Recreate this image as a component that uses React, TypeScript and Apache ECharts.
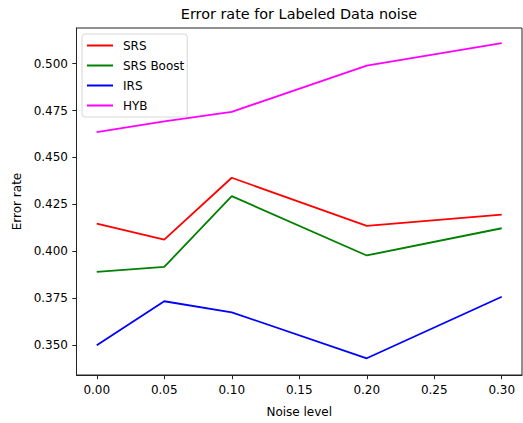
import React, { useEffect, useRef } from "react";
import * as echarts from "echarts";

const noiseLevels = [0.0, 0.05, 0.1, 0.2, 0.3];
const srs = [0.4148, 0.4062, 0.4392, 0.4136, 0.4196];
const srsBoost = [0.3891, 0.3917, 0.4294, 0.3978, 0.4123];
const irs = [0.35, 0.3734, 0.3675, 0.343, 0.3758];
const hyb = [0.4635, 0.4692, 0.4743, 0.499, 0.511];
const xTicks = [0, 0.05, 0.1, 0.15, 0.2, 0.25, 0.3];
const yTicks = [0.35, 0.375, 0.4, 0.425, 0.45, 0.475, 0.5];

const FONT = "DejaVu Sans";

export default function App() {
  const ref = useRef<HTMLDivElement>(null);
  useEffect(() => {
    document.body.style.margin = "0";
    const chart = echarts.init(ref.current!, null, { renderer: "svg" });
    const mk = (name: string, data: number[], color: string) => ({
      name,
      type: "line",
      data: noiseLevels.map((x, i) => [x, data[i]]),
      showSymbol: false,
      symbol: "none",
      lineStyle: { color, width: 1.8 },
      itemStyle: { color },
      z: 3,
    });
    chart.setOption({
      animation: false,
      backgroundColor: "#fff",
      textStyle: { fontFamily: FONT },
      graphic: [
        {
          type: "text",
          x: 299,
          y: 14,
          style: {
            text: "Error rate for Labeled Data noise",
            fontFamily: FONT,
            fontSize: 14.4,
            fill: "#000",
            textAlign: "center",
            textVerticalAlign: "middle",
          },
        },
      ],
      grid: {
        left: 76.5,
        right: 1,
        top: 28,
        bottom: 42,
        show: true,
        borderColor: "#222",
        borderWidth: 1,
        backgroundColor: "transparent",
      },
      legend: {
        orient: "vertical",
        left: 82,
        top: 34,
        padding: [4.5, 3, 4.5, 5],
        borderColor: "#d6d6d6",
        borderWidth: 1,
        borderRadius: 3,
        backgroundColor: "rgba(255,255,255,0.8)",
        itemWidth: 26,
        itemHeight: 2,
        itemGap: 6,
        icon: "rect",
        textStyle: { fontFamily: FONT, fontSize: 12, color: "#000", lineHeight: 14, padding: [0, 0, 0, 5] },
        data: ["SRS", "SRS Boost", "IRS", "HYB"],
      },
      xAxis: {
        type: "value",
        min: -0.015,
        max: 0.315,
        name: "Noise level",
        nameLocation: "middle",
        nameGap: 31,
        nameTextStyle: { fontFamily: FONT, fontSize: 12, color: "#000" },
        axisLine: { show: true, onZero: false, lineStyle: { color: "#222", width: 1 } },
        axisTick: { show: true, length: 4.2, customValues: xTicks, lineStyle: { color: "#222" } },
        axisLabel: {
          customValues: xTicks,
          formatter: (v: number) => v.toFixed(2),
          fontFamily: FONT,
          fontSize: 12,
          color: "#000",
          margin: 9,
        },
        splitLine: { show: false },
      },
      yAxis: {
        type: "value",
        min: 0.3341,
        max: 0.519,
        name: "Error rate",
        nameLocation: "middle",
        nameGap: 53,
        nameTextStyle: { fontFamily: FONT, fontSize: 12, color: "#000" },
        axisLine: { show: true, onZero: false, lineStyle: { color: "#222", width: 1 } },
        axisTick: { show: true, length: 4.2, customValues: yTicks, lineStyle: { color: "#222" } },
        axisLabel: {
          customValues: yTicks,
          formatter: (v: number) => v.toFixed(3),
          fontFamily: FONT,
          fontSize: 12,
          color: "#000",
          margin: 8.5,
        },
        splitLine: { show: false },
      },
      series: [
        mk("SRS", srs, "#ff0000"),
        mk("SRS Boost", srsBoost, "#008000"),
        mk("IRS", irs, "#0000ff"),
        mk("HYB", hyb, "#ff00ff"),
      ],
    });
    return () => chart.dispose();
  }, []);
  return <div ref={ref} style={{ width: 523, height: 423, position: "absolute", left: 0, top: 0 }} />;
}
